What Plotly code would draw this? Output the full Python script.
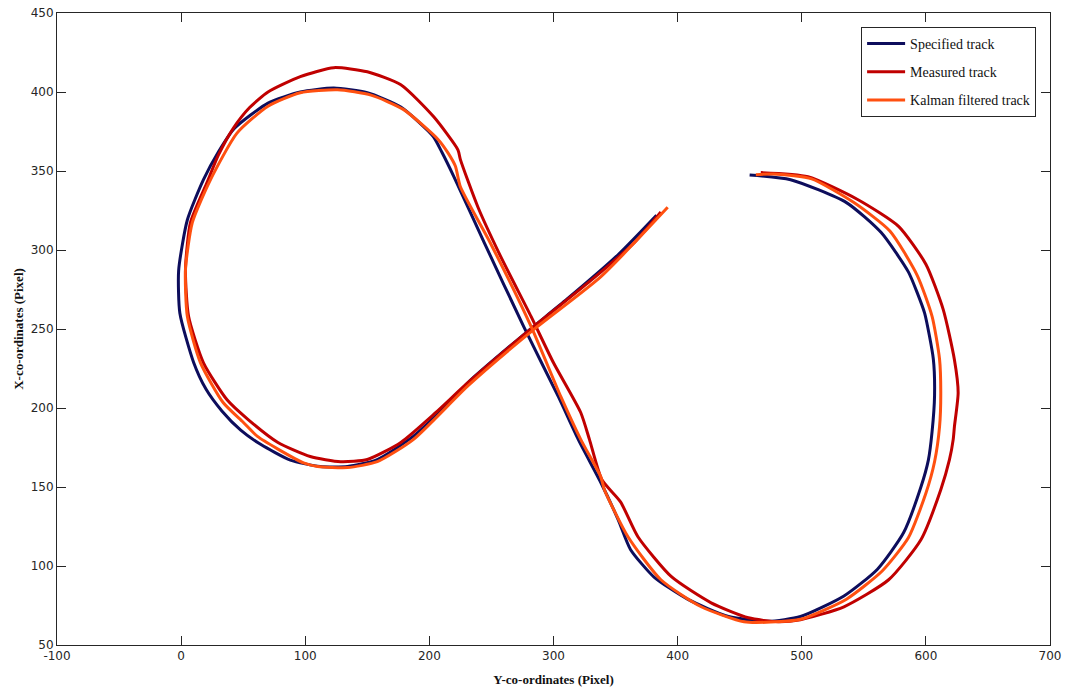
import plotly.graph_objects as go

# Specified track (data coordinates)
spec_x = [383, 352, 311, 276, 231, 219.6, 187, 158, 134, 112, 88, 64, 48, 33, 20, 10, -1, -2, 5, 18, 30, 43,
          70, 96, 123, 150, 177, 203, 210, 220, 244, 276, 304, 320, 338, 352, 362, 381, 408, 441, 473,
          499, 534, 561, 582, 596, 602, 605, 607, 606, 599, 593, 586, 564, 536, 491, 458]
spec_y = [322, 297, 269, 246.5, 216, 206, 182, 167.4, 163, 163, 167, 177, 186, 198, 212, 229, 260, 287, 319, 344.5, 362, 377,
          393, 400, 402.5, 399.5, 390.5, 372, 362, 346, 305, 251.5, 207, 180, 153, 129.5, 110.5, 93, 79, 68, 65,
          68, 81, 98, 121, 150, 167, 185, 208, 231, 260, 273, 286, 311, 330, 344.5, 347.5]

# Measured track
meas_x = [386.5, 365, 328, 284, 231, 205, 177, 150, 128.5, 104, 78, 54, 37, 18, 6, 3.5, 7.5, 21, 30, 42,
          55, 70, 96, 123, 150, 177, 203.5, 223, 225, 239, 257.5, 282, 300, 322, 329, 339, 354, 368, 395, 427,
          457, 481, 499, 534, 570, 596, 612, 619, 622, 623, 626, 623, 614, 600, 578, 545, 505, 467]
meas_y = [324, 304.6, 279.3, 251.5, 216, 197, 178.2, 167.4, 166, 169.3, 178.2, 192.7, 205.2, 228.6, 258, 287.5, 317.3, 343, 360, 377,
          390, 400, 409.7, 415.4, 412.8, 404.6, 384.3, 363.4, 357.2, 327.4, 295.8, 257.8, 228.6, 197, 180, 154.6, 140.6, 118.5, 93.2, 76.7,
          67.2, 64.7, 66, 74.2, 91.3, 116.6, 148.3, 167.3, 180, 188.2, 209.7, 230.6, 262.3, 291, 315, 332, 346.4, 349]

# Kalman filtered track
kal_x = [392, 338, 284, 231, 187, 158, 134, 110, 98.6, 78, 61.5, 50, 34, 15.6, 5, 3.5, 9, 23.6, 45,
         70, 96, 126, 153, 179, 207, 215, 221, 225, 249, 282, 306, 322, 338, 341, 360, 386.5, 419, 453.5,
         475, 500, 536, 565, 586, 600, 607, 611, 612, 611, 605, 593, 571, 542, 508, 480, 463]
kal_y = [327, 283, 249.6, 214, 180, 166, 162.3, 163, 165.3, 174, 182, 191, 203.3, 228.6, 258, 287.5, 317.3, 344.4, 374,
         391, 399.5, 401.4, 398, 389, 370, 361.5, 353, 340, 304.6, 251.5, 207, 180, 156.6, 148.3, 118.5, 91.3, 74.2, 64.7,
         64.5, 66.5, 79, 97, 118, 146, 166, 188, 210, 231, 258, 284, 312, 330, 345, 348, 347.7]

series_names = ["Specified track", "Measured track", "Kalman filtered track"]
x_ticks = [-100, 0, 100, 200, 300, 400, 500, 600, 700]
y_ticks = [50, 100, 150, 200, 250, 300, 350, 400, 450]

fig = go.Figure()
for name, xs, ys, col, grp in [
    (series_names[0], spec_x, spec_y, "#0d0d5c", "a"),
    (series_names[1], meas_x, meas_y, "#c00000", "b"),
    (series_names[2], kal_x, kal_y, "#ff5010", "c"),
]:
    fig.add_trace(go.Scatter(x=xs, y=ys, mode="lines", name=name, legendgroup=grp,
                             line=dict(color=col, width=3, shape="spline", smoothing=0.6)))

axis_common = dict(showgrid=False, zeroline=False, showline=True, linecolor="#262626", linewidth=1,
                   mirror="ticks", ticks="inside", ticklen=9, tickcolor="#262626", automargin=False,
                   tickfont=dict(family="DejaVu Sans", size=12, color="#262626"))

fig.update_layout(
    width=1069, height=692,
    margin=dict(l=57, r=19, t=13, b=47),
    paper_bgcolor="white", plot_bgcolor="white",
    xaxis=dict(range=[-100, 700], tickvals=x_ticks, ticktext=[str(v) for v in x_ticks],
               title=dict(text="<b>Y-co-ordinates (Pixel)</b>", standoff=12,
                          font=dict(family="Liberation Serif", size=13, color="#111")),
               **axis_common),
    yaxis=dict(range=[50, 450], tickvals=y_ticks, ticktext=[str(v) for v in y_ticks],
               title=dict(text="<b>X-co-ordinates (Pixel)</b>", standoff=4,
                          font=dict(family="Liberation Serif", size=13, color="#111")),
               **axis_common),
    legend=dict(x=0.986, y=0.978, xanchor="right", yanchor="top",
                bgcolor="white", bordercolor="#262626", borderwidth=1,
                font=dict(family="Liberation Serif", size=14, color="#111"),
                itemwidth=38, tracegroupgap=7),
    showlegend=True,
)

fig.write_html("out.html")
